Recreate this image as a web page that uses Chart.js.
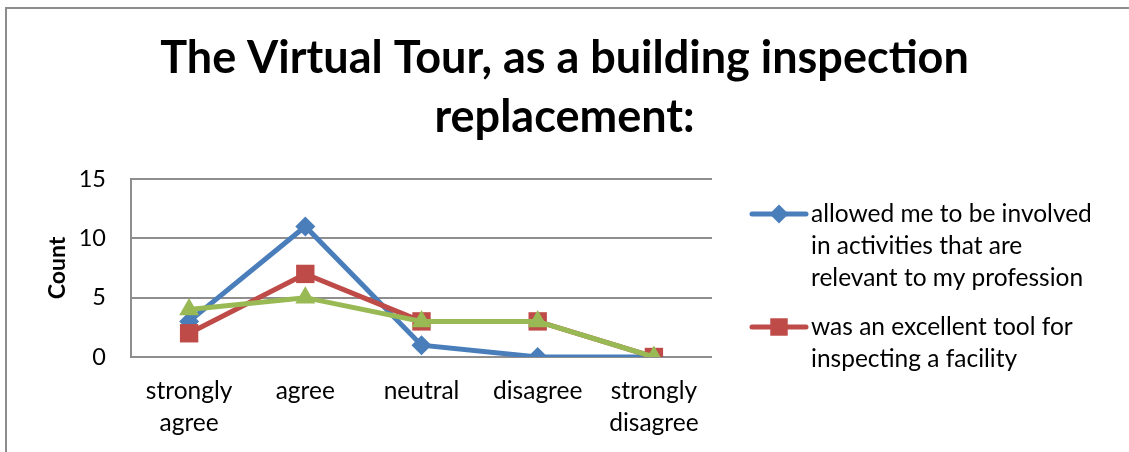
<!DOCTYPE html>
<html><head><meta charset="utf-8">
<script src="https://cdn.jsdelivr.net/npm/chart.js@4.4.1/dist/chart.umd.min.js"></script>
<style>html,body{margin:0;padding:0;background:#fff;}canvas{display:block;}</style>
</head><body>
<canvas id="c" width="1129" height="452"></canvas>
<script>
const categories = [['strongly','agree'], 'agree', 'neutral', 'disagree', ['strongly','disagree']];
const involvedValues = [3, 11, 1, 0, 0];
const toolValues = [2, 7, 3, 3, 0];
const thirdValues = [4, 5, 3, 3, 0];
const seriesLabels = [
  ['allowed me to be involved', 'in activities that are', 'relevant to my profession'],
  ['was an excellent tool for', 'inspecting a facility'],
  []
];
const titleLines = ['The Virtual Tour, as a building inspection', 'replacement:'];
const yAxisTitle = 'Count';
const yMin = 0, yMax = 15, yStep = 5;

const FONT = 'Lato, "Open Sans", sans-serif';
const GRID = '#8e8e8e';
const colors = ['#4A7EBB', '#BE4B48', '#98B954'];
const styles = ['rectRot', 'rect', 'triangle'];
const radii = [10, 13, 11.5];

const frame = {
  id: 'frame',
  beforeDraw(chart) {
    const ctx = chart.ctx;
    ctx.save();
    ctx.fillStyle = '#fff';
    ctx.fillRect(0, 0, chart.width, chart.height);
    ctx.strokeStyle = '#8c8c8c';
    ctx.lineWidth = 2;
    ctx.beginPath();
    ctx.moveTo(6, chart.height);
    ctx.lineTo(6, 8);
    ctx.lineTo(chart.width, 8);
    ctx.stroke();
    ctx.restore();
  }
};

const sideLegend = {
  id: 'sideLegend',
  afterDraw(chart) {
    const ctx = chart.ctx;
    const x0 = chart.chartArea.right + 40;
    let y = 214;
    ctx.save();
    chart.data.datasets.forEach((ds) => {
      const lines = ds.legendLines;
      if (!lines || !lines.length) return;
      ctx.strokeStyle = ds.borderColor;
      ctx.lineWidth = 5;
      ctx.lineCap = 'round';
      ctx.beginPath();
      ctx.moveTo(x0, y);
      ctx.lineTo(x0 + 54, y);
      ctx.stroke();
      ctx.fillStyle = ds.borderColor;
      Chart.helpers.drawPoint(ctx, {pointStyle: ds.pointStyle, radius: ds.pointRadius * 0.95, borderWidth: 0}, x0 + 27, y);
      ctx.fillStyle = '#000';
      ctx.font = '24.5px ' + FONT;
      ctx.textBaseline = 'middle';
      ctx.textAlign = 'left';
      lines.forEach((t, k) => ctx.fillText(t, x0 + 59, y + k * 32));
      y += lines.length * 32 + 17;
    });
    ctx.restore();
  }
};

const datasets = [involvedValues, toolValues, thirdValues].map((vals, i) => ({
  label: seriesLabels[i].join(' '),
  legendLines: seriesLabels[i],
  data: vals,
  borderColor: colors[i],
  backgroundColor: colors[i],
  borderWidth: 5,
  pointStyle: styles[i],
  pointRadius: radii[i],
  pointHoverRadius: radii[i],
  pointBorderWidth: 0,
  pointBackgroundColor: colors[i],
  tension: 0,
  order: 3 - i
}));

new Chart(document.getElementById('c'), {
  type: 'line',
  data: { labels: categories, datasets },
  plugins: [frame, sideLegend],
  options: {
    responsive: false,
    animation: false,
    layout: { padding: 0 },
    plugins: {
      legend: { display: false },
      tooltip: { enabled: false },
      title: {
        display: true,
        text: titleLines,
        color: '#000',
        font: { family: FONT, size: 45, weight: 'bold', lineHeight: 1.333 },
        padding: { top: 28, bottom: 31 },
        align: 'center',
        fullSize: true
      }
    },
    scales: {
      x: {
        offset: true,
        grid: { display: false, drawTicks: false },
        border: { display: false },
        ticks: { color: '#000', font: { family: FONT, size: 24.5, lineHeight: 1.3 }, padding: 18, maxRotation: 0, autoSkip: false },
        afterFit(s) { s.height = 95; }
      },
      y: {
        min: yMin, max: yMax,
        grid: { color: GRID, lineWidth: 2, drawTicks: false },
        border: { display: true, color: GRID, width: 2 },
        ticks: { stepSize: yStep, color: '#000', font: { family: FONT, size: 23.5 }, padding: 25 },
        title: { display: true, text: yAxisTitle, color: '#000', font: { family: FONT, size: 23, weight: 'bold' }, padding: { top: 44, bottom: 0 } },
        afterFit(s) { s.width = 131; }
      },
      legendSpace: {
        type: 'linear',
        position: 'right',
        display: true,
        grid: { display: false, drawTicks: false },
        border: { display: false },
        ticks: { display: false },
        afterFit(s) { s.width = 417; }
      }
    }
  }
});
</script>
</body></html>
